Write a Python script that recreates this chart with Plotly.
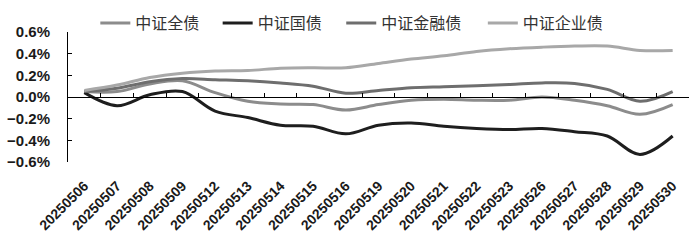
import plotly.graph_objects as go

dates = ['20250506','20250507','20250508','20250509','20250512','20250513','20250514',
         '20250515','20250516','20250519','20250520','20250521','20250522','20250523',
         '20250526','20250527','20250528','20250529','20250530']

quanzhai = [0.05, 0.05, 0.12, 0.15, 0.04, -0.04, -0.065, -0.07, -0.12, -0.07, -0.03,
            -0.02, -0.03, -0.03, 0.00, -0.03, -0.08, -0.16, -0.07]
guozhai = [0.04, -0.08, 0.02, 0.05, -0.13, -0.19, -0.26, -0.27, -0.34, -0.26, -0.24,
           -0.27, -0.29, -0.30, -0.29, -0.32, -0.36, -0.53, -0.36]
jinrong = [0.05, 0.08, 0.14, 0.17, 0.16, 0.15, 0.13, 0.10, 0.035, 0.06, 0.085,
           0.095, 0.105, 0.115, 0.13, 0.125, 0.07, -0.04, 0.05]
qiye = [0.06, 0.11, 0.18, 0.22, 0.24, 0.245, 0.265, 0.27, 0.27, 0.31, 0.35,
        0.38, 0.42, 0.445, 0.46, 0.47, 0.47, 0.43, 0.43]

series = [
    ('中证全债', quanzhai, '#8c8c8c', 'legend'),
    ('中证国债', guozhai, '#1e1e1e', 'legend2'),
    ('中证金融债', jinrong, '#6e6e6e', 'legend3'),
    ('中证企业债', qiye, '#a8a8a8', 'legend4'),
]
legend_x = [0.044, 0.241, 0.440, 0.668]

fig = go.Figure()
for name, vals, color, leg in series:
    fig.add_trace(go.Scatter(
        x=dates, y=[v / 100 for v in vals], name=name, mode='lines',
        line=dict(color=color, width=3, shape='spline', smoothing=1),
        legend=leg, hoverinfo='skip'))

# invisible trace to host the zero-line axis with boundary ticks
fig.add_trace(go.Scatter(x=dates, y=[None] * len(dates), xaxis='x2', mode='lines',
                         showlegend=False, hoverinfo='skip'))

tick_font = dict(family='Liberation Sans, Arial, sans-serif', size=14, color='#1a1a1a')
legend_font = dict(family='Noto Sans CJK SC', size=16, color='#333333')

legends = {}
for i, (_, _, _, leg) in enumerate(series):
    legends[leg] = dict(orientation='h', x=legend_x[i], xanchor='left',
                        yref='container', y=1 - 23 / 247, yanchor='middle',
                        font=legend_font, bgcolor='rgba(0,0,0,0)', itemwidth=30)

fig.update_layout(
    width=700, height=247,
    margin=dict(l=68, r=11, t=32, b=85, autoexpand=False),
    paper_bgcolor='white', plot_bgcolor='white',
    showlegend=True,
    **legends,
    xaxis=dict(type='category', categoryorder='array', categoryarray=dates,
               range=[-0.5, 18.5], showline=False, showgrid=False, zeroline=False,
               ticks='', tickangle=-45, tickfont=dict(**tick_font, weight='bold'),
               ticklabelstandoff=12, automargin=False, fixedrange=True),
    xaxis2=dict(type='category', categoryorder='array', categoryarray=dates,
                range=[-0.5, 18.5], overlaying='x', anchor='free', position=0.5,
                showline=True, linecolor='#000000', linewidth=1,
                ticks='inside', ticklen=4, tickcolor='#000000', tickwidth=1,
                tickson='boundaries', showticklabels=False, showgrid=False,
                zeroline=False),
    yaxis=dict(range=[-0.006, 0.006], dtick=0.002, tick0=0, tickformat='.1%',
               showline=True, linecolor='#000000', linewidth=1,
               ticks='inside', ticklen=4, tickcolor='#000000',
               showgrid=False, zeroline=False, automargin=False,
               ticklabelstandoff=14,
               tickfont=dict(family='Liberation Sans, Arial, sans-serif', size=15,
                             color='#1a1a1a', weight='bold')),
)

fig.write_html('out.html')
